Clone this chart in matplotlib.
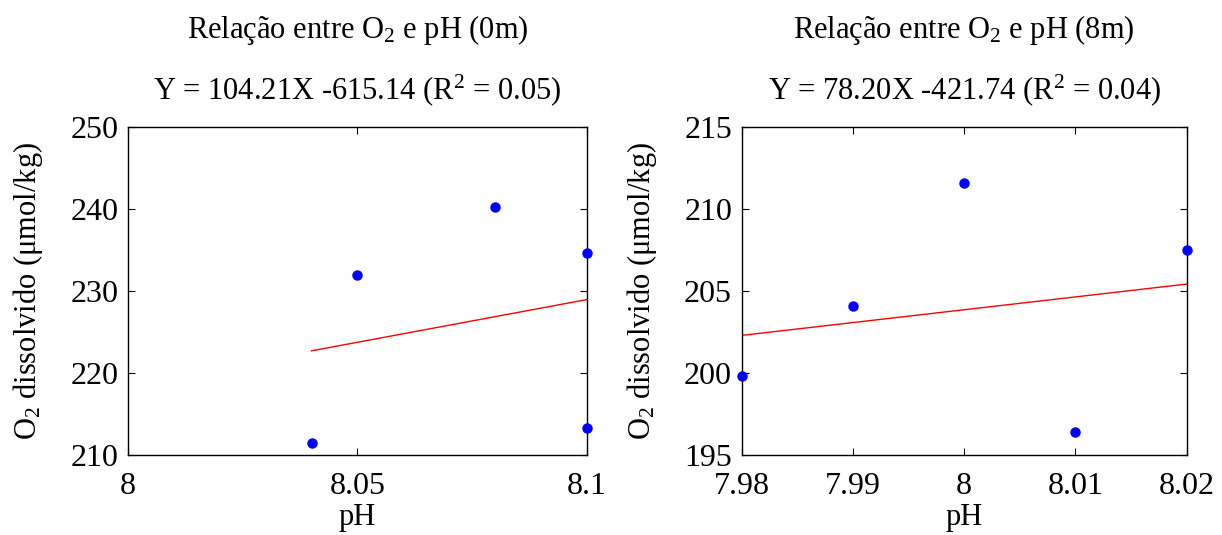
import matplotlib
matplotlib.use("Agg")
import matplotlib.pyplot as plt

plt.rcParams['font.family'] = ['Liberation Serif', 'DejaVu Serif']
plt.rcParams['mathtext.fontset'] = 'custom'
plt.rcParams['mathtext.rm'] = 'Liberation Serif'
plt.rcParams['mathtext.it'] = 'Liberation Serif:italic'

# dados (0m)
ph_0m = [8.04, 8.05, 8.08, 8.10, 8.10]
o2_0m = [211.5, 232.0, 240.2, 234.6, 213.3]
# dados (8m)
ph_8m = [7.98, 7.99, 8.00, 8.01, 8.02]
o2_8m = [199.8, 204.1, 211.6, 196.4, 207.5]

# regressao
coef_0m = (104.21, -615.14, 0.05)
coef_8m = (78.20, -421.74, 0.04)

paineis = [
    dict(x=ph_0m, y=o2_0m, coef=coef_0m, prof='0m',
         xlim=(8.0, 8.1), ylim=(210, 250),
         xticks=[8.0, 8.05, 8.1], xlabels=['8', '8.05', '8.1'],
         yticks=[210, 220, 230, 240, 250],
         pos=[0.1047, 0.1495, 0.3756, 0.613]),
    dict(x=ph_8m, y=o2_8m, coef=coef_8m, prof='8m',
         xlim=(7.98, 8.02), ylim=(195, 215),
         xticks=[7.98, 7.99, 8.0, 8.01, 8.02],
         xlabels=['7.98', '7.99', '8', '8.01', '8.02'],
         yticks=[195, 200, 205, 210, 215],
         pos=[0.607, 0.1495, 0.364, 0.613]),
]

fig = plt.figure(figsize=(12.22, 5.35), dpi=100)

for p in paineis:
    ax = fig.add_axes(p['pos'])
    a, b, r2 = p['coef']
    xs = [min(p['x']), max(p['x'])]
    ax.plot(xs, [a * v + b for v in xs], color='red', lw=1)
    ax.plot(p['x'], p['y'], 'o', color='blue', ms=6.5, clip_on=False, zorder=3)
    ax.set_xlim(p['xlim'])
    ax.set_ylim(p['ylim'])
    ax.set_xticks(p['xticks'])
    ax.set_xticklabels(p['xlabels'])
    ax.set_yticks(p['yticks'])
    ax.tick_params(direction='in', top=True, right=True, length=5,
                   labelsize=23)
    ax.tick_params(axis='x', pad=12)
    ax.tick_params(axis='y', pad=7)
    for s in ax.spines.values():
        s.set_linewidth(1)
    ax.set_xlabel('pH', fontsize=22, labelpad=2)
    ax.set_ylabel(r'O$_2$ dissolvido (μmol/kg)', fontsize=22, labelpad=18)
    ax.set_title('Relação entre O$_2$ e pH (%s)\nY = %.2fX %.2f (R$^2$ = %.2f)'
                 % (p['prof'], a, b, r2),
                 fontsize=22, linespacing=1.95, pad=20)

fig.savefig('out.png', dpi=100)
